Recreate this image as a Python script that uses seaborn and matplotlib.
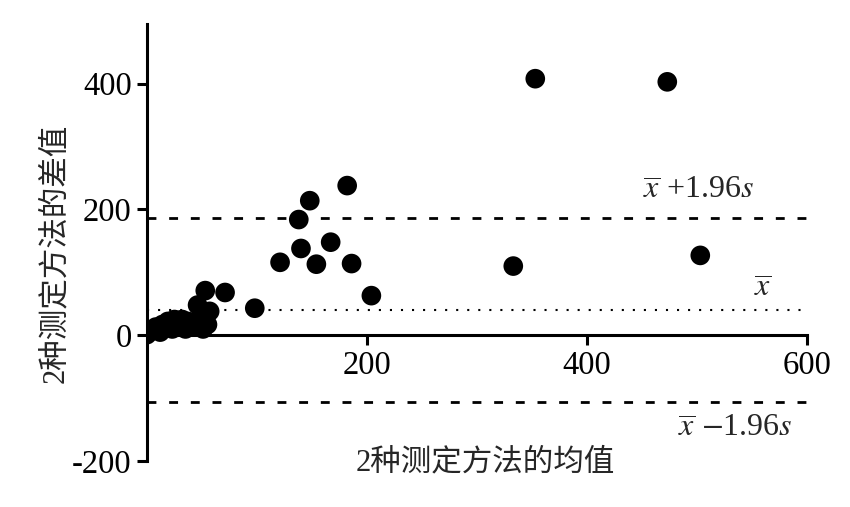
import numpy as np
import pandas as pd
import matplotlib
matplotlib.use("Agg")
import matplotlib.pyplot as plt
import seaborn as sns

# mean of the two methods (x) and their difference (y)
mean_vals = [0, 3, 8, 12, 14, 19, 23, 25, 32, 35, 37, 44, 48, 51, 55, 46, 51, 57,
             53, 71, 98, 121, 138, 140, 148, 154, 167, 182, 186, 204, 333, 353, 473, 503]
diff_vals = [1, 6, 13, 5, 17, 22, 10, 25, 25, 10, 22, 13, 25, 10, 17, 48, 36, 38,
             71, 68, 43, 116, 184, 138, 214, 113, 148, 238, 114, 63, 110, 408, 403, 127]

bias = 40
upper_loa = 186
lower_loa = -106

x_ticks = [200, 400, 600]
y_ticks = [-200, 0, 200, 400]

df = pd.DataFrame({"mean": mean_vals, "diff": diff_vals})

sns.set_style("ticks")
plt.rcParams["font.family"] = ["Liberation Serif", "Noto Sans CJK SC"]
plt.rcParams["mathtext.fontset"] = "stix"
plt.rcParams["axes.unicode_minus"] = False

fig = plt.figure(figsize=(8.5, 5.07), dpi=100)
ax = fig.add_axes([0.1729, 0.0907, 0.7765, 0.862])

sns.scatterplot(data=df, x="mean", y="diff", color="black", s=200,
                edgecolor="none", ax=ax, zorder=3, legend=False)

ax.plot([0, 600], [upper_loa, upper_loa], color="black", lw=2, linestyle=(0, (3.2, 4.6)))
ax.plot([0, 600], [lower_loa, lower_loa], color="black", lw=2, linestyle=(0, (3.2, 4.6)))
ax.plot([0, 600], [bias, bias], color="black", lw=1.5, linestyle=(0, (1, 4.3)))

ax.text(552, 228, r"$\overline{x}$ +1.96$s$", ha="right", va="center", fontsize=23)
ax.text(560, 73, r"$\overline{x}$", ha="center", va="center", fontsize=23)
ax.text(587, -150, r"$\overline{x}$ $-$1.96$s$", ha="right", va="center", fontsize=23)

ax.set_xlim(0, 600)
ax.set_ylim(-200, 495)
ax.set_xticks(x_ticks)
ax.set_yticks(y_ticks)

for side in ["top", "right"]:
    ax.spines[side].set_visible(False)
ax.spines["bottom"].set_position(("data", 0))
ax.spines["bottom"].set_bounds(0, 600)
for side in ["left", "bottom"]:
    ax.spines[side].set_linewidth(2.2)
    ax.spines[side].set_color("black")
ax.tick_params(axis="both", direction="out", length=7, width=2.2,
               labelsize=23.5, colors="black", pad=4)

ax.set_xlabel("2种测定方法的均值", fontsize=22)
ax.xaxis.set_label_coords(0.512, 0.028)
ax.set_ylabel("2种测定方法的差值", fontsize=22)
ax.yaxis.set_label_coords(-0.117, 0.476)

fig.savefig("out.png", dpi=100)
